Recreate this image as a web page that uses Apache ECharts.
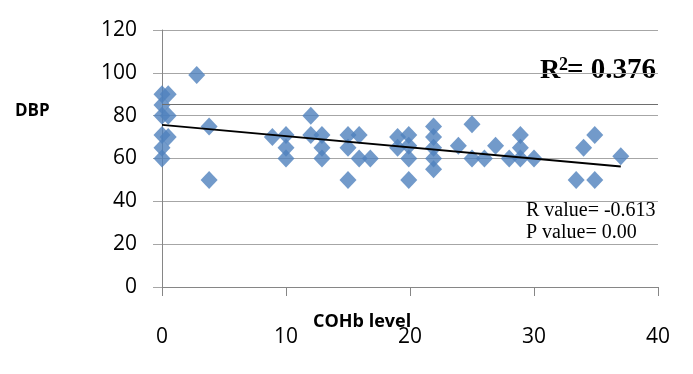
<!DOCTYPE html>
<html>
<head>
<meta charset="utf-8">
<script src="https://cdn.jsdelivr.net/npm/echarts@6/dist/echarts.min.js"></script>
<style>
html,body{margin:0;padding:0;background:#fff;}
#chart{width:693px;height:374px;}
</style>
</head>
<body>
<div id="chart"></div>
<script>
// COHb level (x) and DBP (y) values
const cohb = [0, 0.5, 0, 0, 0.5, 0, 0.5, 0, 0,
  2.8, 3.8, 3.8, 8.9, 10, 10, 10, 12, 12, 12.9, 12.9, 12.9,
  15, 15, 15, 15.9, 15.9, 16.8, 19, 19, 19.9, 19.9, 19.9, 19.9,
  21.9, 21.9, 21.9, 21.9, 21.9, 23.9, 25, 25, 26, 26.9, 28,
  28.9, 28.9, 28.9, 30, 33.4, 34, 34.9, 34.9, 37];
const dbp = [90, 90, 85, 80, 80, 71, 70, 65, 60,
  99, 75, 50, 70, 71, 65, 60, 80, 71, 71, 65, 60,
  71, 65, 50, 71, 60, 60, 70, 65, 71, 66, 60, 50,
  75, 70, 65, 60, 55, 66, 76, 60, 60, 66, 60,
  71, 65, 60, 60, 50, 65, 71, 50, 61];
// Linear trend line endpoints
const trendX = [0, 37];
const trendY = [75.7, 56.3];
// Axis ticks
const xTicks = [0, 10, 20, 30, 40];
const yTicks = [0, 20, 40, 60, 80, 100, 120];
const extraLineY = 85.5;

const points = cohb.map((x, i) => [x, dbp[i]]);
const trend = trendX.map((x, i) => [x, trendY[i]]);

const chart = echarts.init(document.getElementById('chart'), null, {renderer: 'canvas'});
const gridColor = '#A6A6A6';
const axisColor = '#868686';
chart.setOption({
  animation: false,
  backgroundColor: '#fff',
  grid: {left: 162, right: 35, top: 30, bottom: 87, containLabel: false, outerBoundsMode: 'none'},
  xAxis: {
    type: 'value', min: xTicks[0], max: xTicks[xTicks.length - 1], interval: 10,
    axisLine: {show: true, onZero: false, lineStyle: {color: axisColor, width: 1}},
    axisTick: {show: true, length: 9, lineStyle: {color: axisColor}},
    axisLabel: {margin: 40, fontSize: 21, color: '#000', fontFamily: 'Open Sans'},
    splitLine: {show: false}
  },
  yAxis: {
    type: 'value', min: yTicks[0], max: yTicks[yTicks.length - 1], interval: 20,
    axisLine: {show: true, onZero: false, lineStyle: {color: axisColor, width: 1}},
    axisTick: {show: true, length: 9, lineStyle: {color: gridColor}},
    axisLabel: {margin: 25, fontSize: 21, color: '#000', fontFamily: 'Open Sans'},
    splitLine: {show: true, lineStyle: {color: gridColor, width: 1}}
  },
  series: [
    {
      type: 'scatter', data: points, symbol: 'diamond', symbolSize: [17, 18],
      itemStyle: {color: '#4F81BD'}, z: 2,
      markLine: {
        silent: true, symbol: 'none', label: {show: false},
        lineStyle: {color: '#6E6E6E', type: 'solid', width: 1},
        data: [{yAxis: extraLineY}]
      }
    },
    {
      type: 'line', data: trend, symbol: 'none', z: 3,
      lineStyle: {color: '#000', width: 2}
    }
  ],
  graphic: [
    {type: 'text', left: 15, top: 103, style: {text: 'DBP', font: 'bold 17px "Open Sans"', fill: '#000'}},
    {type: 'text', left: 313, top: 313, style: {text: 'COHb level', font: 'bold 18px "Open Sans"', fill: '#000'}},
    {type: 'text', x: 540, y: 71, style: {text: 'R', font: 'bold 28px "Liberation Serif"', fill: '#000', verticalAlign: 'middle'}},
    {type: 'text', x: 559, y: 65, style: {text: '2', font: 'bold 18px "Liberation Serif"', fill: '#000', verticalAlign: 'middle'}},
    {type: 'text', x: 567, y: 71, style: {text: '= 0.376', font: 'bold 29px "Liberation Serif"', fill: '#000', verticalAlign: 'middle'}},
    {type: 'text', x: 526, y: 211, style: {text: 'R value= -0.613', font: '20px "Liberation Serif"', fill: '#000', verticalAlign: 'middle'}},
    {type: 'text', x: 526, y: 233, style: {text: 'P value= 0.00', font: '20px "Liberation Serif"', fill: '#000', verticalAlign: 'middle'}}
  ]
});
</script>
</body>
</html>
